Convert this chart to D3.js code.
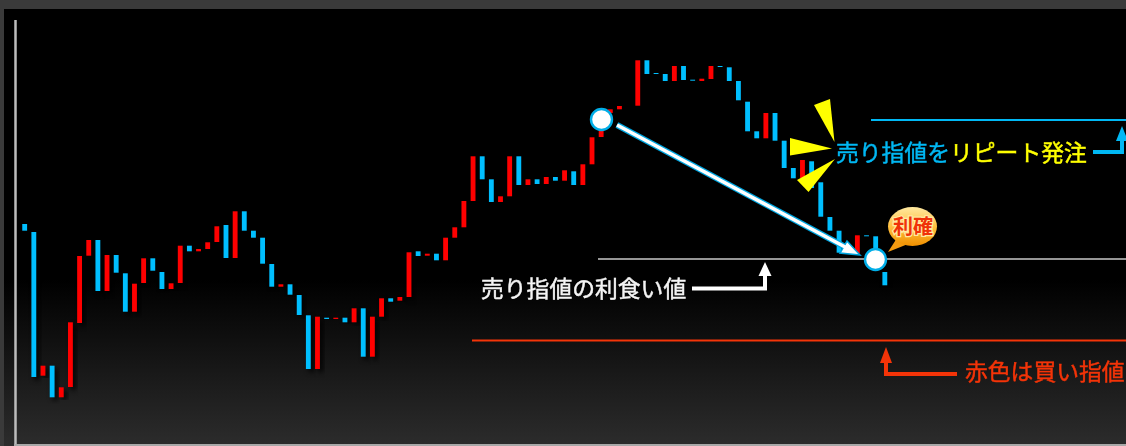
<!DOCTYPE html>
<html>
<head>
<meta charset="utf-8">
<script src="https://cdn.jsdelivr.net/npm/d3@7"></script>
<style>
    html, body { margin: 0; padding: 0; background: #3a3a3a; overflow: hidden; }
    svg { display: block; }
    text { font-family: "Noto Sans CJK JP", sans-serif; }
</style>
</head>
<body>
<svg id="chart" width="1126" height="446"></svg>
<script>
// candle values in chart units (no price axis in the picture)
const opens = [222, 214, 70.3, 80.3, 48.7, 59, 123, 190.3, 206, 155, 191, 172.7, 134.3, 163, 187.7, 174,
    157, 163, 200.3, 194.7, 197, 204, 221, 188, 234.7, 215.3, 208.3, 182, 159.3, 161.7, 151, 130.7,
    77, 128.3, 127, 128.3, 123.7, 137.7, 89.3, 129.3, 147.7, 145.3, 149, 194.7, 190.3, 192.3, 185.7, 208.3,
    218.7, 245, 289.7, 266.7, 244, 249.7, 289.7, 261, 266.7, 262, 269, 265.3, 274.7, 261, 281.7, 309,
    333, 336.7, 340, 340.3, 385.7, 373, 372, 365, 380, 366.3, 365, 367, 380, 378.7, 365, 344.3,
    314.7, 307.7, 333, 305.3, 278, 268, 284.7, 263.7, 229, 215.3, 195, 192.7, 210.7, 209.7, 174];
const closes = [215.3, 69, 80.3, 48.7, 58.7, 123.7, 190, 206, 155, 191, 173.3, 134.3, 162.3, 187.7, 175.3, 157,
    162.7, 200.3, 194.7, 197, 203.7, 219.7, 188, 234.7, 215.3, 208.3, 182.3, 159.3, 161.7, 151.3, 131, 77,
    129.3, 127, 128.3, 123.7, 137.7, 89.3, 129.3, 147.7, 144.3, 149, 193.7, 190, 192.3, 185.7, 208.3, 218.7,
    245, 289.7, 266.7, 244, 249.7, 289.7, 261, 266.7, 262, 269, 265.3, 275.7, 261, 281.7, 308.7, 333,
    336.7, 340, 340, 385.7, 372, 372, 365, 380, 366, 365.3, 367.3, 380, 379, 365, 345.7, 314.7,
    307.7, 333, 305.3, 278, 267.7, 286, 258, 229.3, 215.3, 193.3, 192.5, 210.7, 209.7, 176, 160.7];

// order levels
const sellLimit = 326;
const takeProfit = 187;
const buyLimit = 105.5;

const width = 1126, height = 446;
const svg = d3.select('#chart');

const x = d3.scaleBand()
    .domain(d3.range(opens.length))
    .range([20.1, 889.4])
    .paddingInner(0.47)
    .paddingOuter(0.235);

const y = d3.scaleLinear()
    .domain([0, height])
    .range([height, 0]);

const defs = svg.append('defs');

const bg = defs.append('linearGradient')
    .attr('id', 'bg')
    .attr('x1', 0).attr('x2', 0).attr('y1', 0).attr('y2', 1);
bg.append('stop').attr('offset', '0.62').attr('stop-color', '#000');
bg.append('stop').attr('offset', '1').attr('stop-color', '#2c2c2c');

const bubble = defs.append('linearGradient')
    .attr('id', 'bubble')
    .attr('x1', 0).attr('x2', 0).attr('y1', 0).attr('y2', 1);
bubble.append('stop').attr('offset', '0').attr('stop-color', '#ffe9a0');
bubble.append('stop').attr('offset', '0.5').attr('stop-color', '#ffc040');
bubble.append('stop').attr('offset', '1').attr('stop-color', '#f09000');

defs.append('filter')
    .attr('id', 'shadow')
    .attr('color-interpolation-filters', 'sRGB')
    .attr('x', '-100%').attr('y', '-20%').attr('width', '300%').attr('height', '140%')
    .append('feDropShadow')
    .attr('dx', 3).attr('dy', 3)
    .attr('stdDeviation', 2.5)
    .attr('flood-color', '#000')
    .attr('flood-opacity', 0.9);

defs.append('filter')
    .attr('id', 'soft')
    .attr('color-interpolation-filters', 'sRGB')
    .append('feGaussianBlur')
    .attr('stdDeviation', 0.45);

// frame
svg.append('rect')
    .attr('width', width).attr('height', height)
    .attr('fill', '#3a3a3a');
svg.append('rect')
    .attr('x', 4).attr('y', 9)
    .attr('width', width - 4).attr('height', height - 9)
    .attr('fill', 'url(#bg)');
svg.append('line')
    .attr('x1', 15.5).attr('x2', 15.5)
    .attr('y1', 20).attr('y2', height)
    .attr('stroke', '#bcbcbc').attr('stroke-width', 2.5);
svg.append('line')
    .attr('x1', 14).attr('x2', width)
    .attr('y1', 445).attr('y2', 445)
    .attr('stroke', '#a8a8a8').attr('stroke-width', 2);

// candles
svg.append('g')
    .selectAll('rect')
    .data(opens.map((o, i) => ({ i, o, c: closes[i] })))
    .join('rect')
    .attr('x', d => x(d.i))
    .attr('y', d => y(Math.max(d.o, d.c)))
    .attr('width', x.bandwidth())
    .attr('height', d => Math.abs(y(d.o) - y(d.c)))
    .attr('fill', d => d.c > d.o ? '#ff0000' : '#00bfff')
    .attr('filter', 'url(#shadow)');

// level lines
const levels = svg.append('g');
levels.append('line')
    .attr('x1', 871).attr('x2', width)
    .attr('y1', y(sellLimit)).attr('y2', y(sellLimit))
    .attr('stroke', '#00b8f4').attr('stroke-width', 2);
levels.append('line')
    .attr('x1', 598).attr('x2', width)
    .attr('y1', y(takeProfit)).attr('y2', y(takeProfit))
    .attr('stroke', '#c8c8c8').attr('stroke-width', 1.5);
levels.append('line')
    .attr('x1', 472).attr('x2', width)
    .attr('y1', y(buyLimit)).attr('y2', y(buyLimit))
    .attr('stroke', '#f43408').attr('stroke-width', 2.2);

// yellow flash around the label
svg.append('g')
    .selectAll('polygon')
    .data(['814,105 830,99 834.5,142', '790,138 790,155.5 832,148.5', '797,180 808.5,192 835,159'])
    .join('polygon')
    .attr('points', d => d)
    .attr('fill', '#ffff00');

// diagonal arrow
const diag = svg.append('g').attr('filter', 'url(#soft)');
diag.append('line')
    .attr('x1', 617).attr('y1', 125)
    .attr('x2', 849).attr('y2', 249)
    .attr('stroke', '#00a6e0').attr('stroke-width', 6);
diag.append('polygon')
    .attr('points', '860,255 840,253 847,241')
    .attr('fill', '#fff')
    .attr('stroke', '#00a6e0').attr('stroke-width', 1.5);
diag.append('line')
    .attr('x1', 617).attr('y1', 125)
    .attr('x2', 847).attr('y2', 248)
    .attr('stroke', '#fff').attr('stroke-width', 3.6);

// entry and exit circles
svg.append('g')
    .attr('filter', 'url(#soft)')
    .selectAll('circle')
    .data([[601.5, 119.5], [875.5, 259.5]])
    .join('circle')
    .attr('cx', d => d[0]).attr('cy', d => d[1])
    .attr('r', 10.5)
    .attr('fill', '#fff')
    .attr('stroke', '#00aee8').attr('stroke-width', 2.4);

// elbow arrows
function elbow(points, tip, color) {
    const g = svg.append('g').attr('filter', 'url(#soft)');
    g.append('path')
        .attr('d', d3.line()(points))
        .attr('fill', 'none')
        .attr('stroke', color).attr('stroke-width', 4);
    g.append('polygon')
        .attr('points', tip)
        .attr('fill', color);
}
elbow([[692, 288.5], [765, 288.5], [765, 275]], '765,262 758.5,276 771.5,276', '#fff');
elbow([[886, 362], [886, 374], [957, 374]], '886,347 880,363 892,363', '#f43408');
elbow([[1093, 152], [1122, 152], [1122, 140]], '1122,126 1116,141 1128,141', '#00b8f4');

// labels
const label = (px, py, str, color, size) => svg.append('text')
    .attr('x', px).attr('y', py)
    .attr('fill', color)
    .attr('stroke', color)
    .attr('stroke-width', 0.45)
    .attr('font-size', size)
    .attr('filter', 'url(#soft)')
    .text(str);

label(481, 297, '売り指値の利食い値', '#f4f4f4', 22.8);
label(965, 380, '赤色は買い指値', '#f43408', 22.8);

const repeat = label(836, 161, '', '#00b8f4', 22.8);
repeat.append('tspan').attr('fill', '#00b8f4').attr('stroke', '#00b8f4').text('売り指値を');
repeat.append('tspan').attr('fill', '#ffff00').attr('stroke', '#ffff00').text('リピート発注');

// take profit balloon
svg.append('polygon')
    .attr('points', '888,252 897,238 908,244')
    .attr('fill', '#f39a10');
svg.append('ellipse')
    .attr('cx', 912.5).attr('cy', 226.5)
    .attr('rx', 24.5).attr('ry', 19.5)
    .attr('fill', 'url(#bubble)');
svg.append('text')
    .attr('x', 913).attr('y', 233.5)
    .attr('text-anchor', 'middle')
    .attr('font-size', 20)
    .attr('font-weight', 700)
    .attr('fill', '#f03208')
    .attr('stroke', '#ffe9a0')
    .attr('stroke-width', 2.5)
    .attr('paint-order', 'stroke')
    .text('利確');
</script>
</body>
</html>
